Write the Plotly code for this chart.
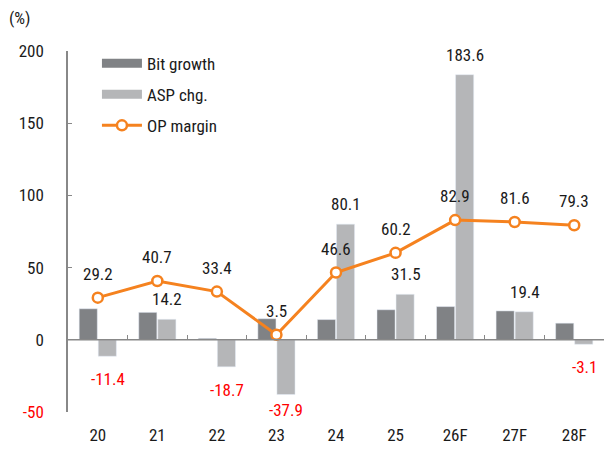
import plotly.graph_objects as go

years = ["20", "21", "22", "23", "24", "25", "26F", "27F", "28F"]
bit_growth = [21.5, 19.0, 1.0, 14.6, 14.0, 20.8, 23.0, 20.0, 11.5]
asp_chg = [-11.4, 14.2, -18.7, -37.9, 80.1, 31.5, 183.6, 19.4, -3.1]
op_margin = [29.2, 40.7, 33.4, 3.5, 46.6, 60.2, 82.9, 81.6, 79.3]

FONT = "Roboto Condensed, Liberation Sans, sans-serif"
FS = 17
DARK = "#808285"
LIGHT = "#b5b6b8"
ORANGE = "#f5821f"
TXT = "#1a1a1a"
AXIS = "#888888"

fig = go.Figure()
fig.add_trace(go.Bar(x=years, y=bit_growth, name="Bit growth", marker_color=DARK,
                     showlegend=False))
fig.add_trace(go.Bar(x=years, y=asp_chg, name="ASP chg.", marker_color=LIGHT,
                     showlegend=False))
fig.add_trace(go.Scatter(x=years, y=op_margin, name="OP margin", mode="lines+markers",
                         line=dict(color=ORANGE, width=3),
                         marker=dict(size=10, color="white", line=dict(color=ORANGE, width=2.5)),
                         showlegend=False, cliponaxis=False))

# legend entries (wide bar swatches like the original)
fig.add_trace(go.Scatter(x=[None], y=[None], mode="lines", name="Bit growth",
                         line=dict(color=DARK, width=9), legendgroup="a"))
fig.add_trace(go.Scatter(x=[None], y=[None], mode="lines", name="ASP chg.",
                         line=dict(color=LIGHT, width=9), legendgroup="b"))
fig.add_trace(go.Scatter(x=[None], y=[None], mode="lines+markers", name="OP margin",
                         line=dict(color=ORANGE, width=3),
                         marker=dict(size=10, color="white", line=dict(color=ORANGE, width=2.5)),
                         legendgroup="c"))

# zero line with boundary ticks
fig.add_trace(go.Scatter(x=[-0.5, len(years) - 0.5], y=[0, 0], xaxis="x2", mode="lines",
                         line=dict(color=AXIS, width=1.5), showlegend=False,
                         hoverinfo="skip"))

for i, v in enumerate(asp_chg):
    # very negative labels are pulled up a bit so they don't hit the category labels
    fig.add_annotation(x=i, y=max(v, -33), text=f"{v:.1f}", showarrow=False,
                       xshift=10, yshift=20 if v >= 0 else -23,
                       font=dict(color=TXT if v >= 0 else "#ff0000", size=FS, family=FONT))
for i, v in enumerate(op_margin):
    fig.add_annotation(x=i, y=v, text=f"{v:.1f}", showarrow=False, yshift=24,
                       font=dict(color=TXT, size=FS, family=FONT))

fig.add_annotation(x=0, y=1, xref="paper", yref="paper", xanchor="left", yanchor="middle",
                   xshift=-61, yshift=33, text="(%)", showarrow=False,
                   font=dict(size=FS, family=FONT, color=TXT))

fig.update_layout(
    width=605, height=451,
    margin=dict(l=68, r=1, t=51, b=39),
    plot_bgcolor="white", paper_bgcolor="white",
    font=dict(family=FONT, size=FS, color=TXT),
    barmode="group", bargap=0.36, bargroupgap=0.05,
    legend=dict(x=0.054, y=1.015, xanchor="left", yanchor="top", bgcolor="rgba(0,0,0,0)",
                font=dict(size=FS, family=FONT), tracegroupgap=6, itemwidth=40,
                traceorder="grouped"),
    xaxis=dict(type="category", categoryorder="array", categoryarray=years,
               range=[-0.5, len(years) - 0.5], showline=False, ticks="", showgrid=False,
               ticklabelstandoff=11, automargin=False),
    xaxis2=dict(overlaying="x", anchor="free", position=0.2, range=[-0.5, len(years) - 0.5],
                tickvals=[i + 0.5 for i in range(len(years))], ticks="inside", ticklen=5,
                tickcolor=AXIS, showticklabels=False, showgrid=False, showline=False,
                zeroline=False, automargin=False),
    yaxis=dict(range=[-50, 200], tickvals=[-50, 0, 50, 100, 150, 200],
               ticktext=["<span style='color:#ff0000'>-50</span>", "0", "50", "100", "150", "200"],
               showline=True, linecolor=AXIS, linewidth=1.5, ticks="inside", ticklen=4,
               tickcolor=AXIS, showgrid=False, zeroline=False, ticklabelstandoff=19,
               automargin=False),
)

fig.write_html("out.html", config={"displayModeBar": False},
               post_script="document.body.style.margin='0';")
